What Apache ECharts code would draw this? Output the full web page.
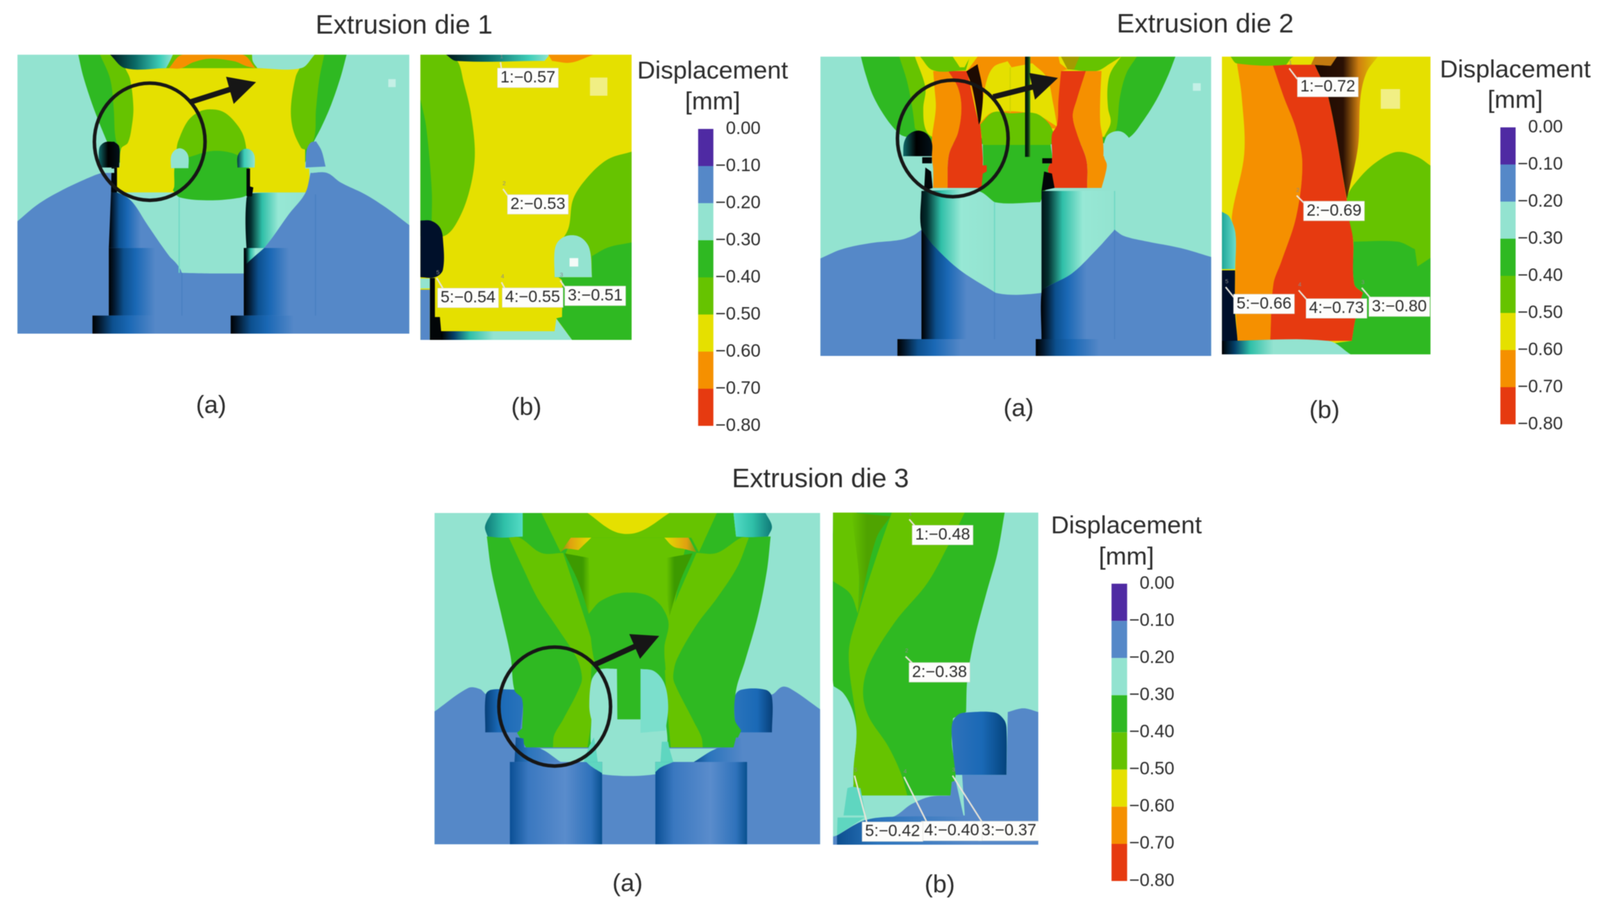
<!DOCTYPE html>
<html><head><meta charset="utf-8">
<script src="https://cdn.jsdelivr.net/npm/echarts@6/dist/echarts.min.js"></script>
<style>html,body{margin:0;padding:0;background:#fff;overflow:hidden}#c{width:100vw;height:100vh;filter:blur(0.8px)}</style></head>
<body><div id="c"></div>
<script>
// ---------- values ----------
const dieTitles = ['Extrusion die 1', 'Extrusion die 2', 'Extrusion die 3'];
const scaleTitle = ['Displacement', '[mm]'];
const subCaptions = ['(a)', '(b)'];
const bandEdges = [0, -0.1, -0.2, -0.3, -0.4, -0.5, -0.6, -0.7, -0.8];
const bandStep = [-0.1, -0.1, -0.1, -0.1, -0.1, -0.1, -0.1, -0.1];
const probeIds = [1, 2, 3, 4, 5];
const probesDie1 = [-0.57, -0.53, -0.51, -0.55, -0.54];
const probesDie2 = [-0.72, -0.69, -0.80, -0.73, -0.66];
const probesDie3 = [-0.48, -0.38, -0.37, -0.40, -0.42];

// label anchor and leader start per probe, in each (b) view's own drawing units
const anchorsDie1 = [[478,153],[518,662],[748,1030],[497,1037],[238,1038]];
const leadersDie1 = [[[368,90],[372,118]],[[378,600],[398,628]],[[608,968],[628,998]],[[372,975],[388,1005]],[[112,958],[142,1008]]];
const anchorsDie2 = [[468,160],[493,657],[757,1041],[503,1048],[210,1030]];
const leadersDie2 = [[[312,85],[345,128]],[[342,595],[372,625]],[[605,965],[642,1008]],[[350,975],[386,1016]],[[55,962],[92,1008]]];
const anchorsDie3 = [[450,125],[438,676],[704,1312],[485,1312],[258,1315]];
const leadersDie3 = [[[322,62],[352,98]],[[308,612],[345,650]],[[488,1090],[605,1282]],[[302,1095],[392,1282]],[[112,1090],[162,1288]]];

// contour outlines, in each view's own drawing units: [fill, outline]
const die1a = [
 ['C',[[65,77],[1502,77],[1502,1481],[65,1481]]],
 ['G',[[288,77],[1272,77],[1250,190],[1215,330],[1180,440],[1150,520],[1120,620],[425,620],[395,520],[365,420],[335,310],[305,180]]],
 ['L',[[368,77],[1190,77],[1172,200],[1160,350],[1150,510],[1105,560],[445,560],[425,500],[418,350],[405,200]]],
 ['Y',[[460,145],[1100,145],[1085,190],[1068,340],[1075,450],[1105,545],[1120,555],[1120,650],[1135,650],[1135,735],[1125,770],[440,770],[425,730],[425,650],[440,640],[445,550],[470,520],[485,430],[490,340],[478,200]]],
 ['L',[[645,640],[648,560],[655,510],[690,410],[730,365],[770,352],[820,365],[865,420],[895,490],[908,600],[908,640]]],
 ['G',[[640,660],[645,610],[700,590],[770,563],[830,565],[880,590],[915,650],[915,760],[925,775],[880,797],[770,810],[660,795],[635,760],[640,740]]],
 ['O',[[620,145],[670,77],[890,77],[938,145],[905,135],[860,110],[770,97],[710,115],[665,145]]],
 ['C',[[925,77],[1155,77],[1105,145],[945,145],[928,110]]],
 ['capL',[[405,77],[635,77],[622,115],[610,145],[460,145]]],
 ['B',[[65,915],[140,830],[220,765],[320,700],[385,668],[420,670],[420,770],[480,810],[540,930],[600,1050],[668,1175],[770,1178],[895,1178],[920,1105],[975,1040],[1060,880],[1120,775],[1140,672],[1200,672],[1250,720],[1340,780],[1420,850],[1502,935],[1502,1481],[65,1481]]],
 ['cylB',[[408,770],[430,770],[480,810],[520,890],[590,1050],[400,1050]]],
 ['cylA',[[925,775],[1120,775],[1060,880],[975,1040],[920,1105],[905,1050],[905,800]]],
 ['cylB',[[400,1050],[590,1050],[668,1175],[668,1390],[400,1390]]],
 ['cylB',[[895,1050],[965,1050],[1162,1050],[1162,1390],[895,1390]]],
 ['cylA',[[900,1050],[970,1050],[920,1110],[905,1130]]],
 ['cylB',[[340,1390],[712,1390],[712,1481],[340,1481]]],
 ['cylB',[[847,1390],[1220,1390],[1220,1481],[847,1481]]],
 ['lnTeal',[[658,795],[658,1175]]],
 ['lnBlue',[[1158,780],[1158,1390]]],
 ['lnBlue',[[668,1175],[668,1390]]],
 ['K',[[410,645],[430,645],[430,770],[408,770]]],
 ['K',[[905,650],[918,650],[918,740],[930,745],[925,790],[905,790]]],
 ['C',[[385,650],[420,650],[420,672],[385,672]]],
 ['C',[[1145,650],[1190,650],[1195,665],[1145,672]]],
 ['bulD',[[365,645],[365,548],[385,518],[420,515],[438,540],[438,645]]],
 ['C',[[628,648],[628,590],[640,560],[660,548],[680,560],[692,590],[692,648]]],
 ['bulA',[[872,645],[872,590],[885,560],[905,550],[925,562],[935,590],[935,645]]],
 ['C',[[1160,513],[1185,530],[1197,590],[1197,640],[1122,645]]],
 ['B',[[1122,645],[1125,560],[1140,520],[1160,513],[1180,560],[1195,640]]],
 ['gizmo',[[1425,200],[1452,200],[1452,240],[1425,240]]]
];
const die1b = [
 ['Y',[[47,60],[894,60],[894,1207],[47,1207]]],
 ['L',[[47,60],[150,60],[195,85],[220,170],[250,300],[265,470],[240,620],[190,740],[140,790],[47,790]]],
 ['G',[[47,240],[70,350],[92,600],[92,735],[47,735]]],
 ['L',[[894,450],[800,480],[720,550],[660,640],[640,760],[590,850],[585,955],[894,955]]],
 ['G',[[735,870],[800,835],[894,815],[894,1207],[655,1207],[592,1120],[615,1115],[615,970],[600,955],[735,955]]],
 ['C',[[585,955],[585,850],[600,810],[640,787],[690,795],[725,840],[735,955]]],
 ['W',[[645,878],[680,878],[680,912],[645,912]]],
 ['N',[[47,727],[90,728],[125,755],[137,800],[137,925],[105,955],[47,955]]],
 ['C',[[47,960],[85,960],[85,1000],[47,1000]]],
 ['B',[[47,1005],[85,1005],[85,1207],[47,1207]]],
 ['K',[[85,958],[105,958],[105,1115],[125,1115],[130,1172],[210,1175],[190,1207],[85,1207]]],
 ['capL',[[150,60],[565,60],[545,85],[190,85]]],
 ['O',[[560,60],[740,60],[650,92],[575,85]]],
 ['capB',[[130,1172],[585,1172],[592,1122],[655,1207],[130,1207]]],
 ['pale',[[727,152],[797,152],[797,225],[727,225]]]
];
const die2a = [
 ['C',[[38,48],[1535,48],[1535,1512],[38,1512]]],
 ['G',[[193,48],[1398,48],[1370,140],[1325,260],[1270,370],[1225,440],[1170,470],[465,470],[365,440],[340,425],[290,350],[240,240],[210,130]]],
 ['L',[[340,48],[1250,48],[1210,130],[1185,250],[1175,380],[1165,415],[1120,445],[460,445],[400,400],[390,300],[370,170]]],
 ['Y',[[400,48],[1190,48],[1150,125],[1138,200],[1140,300],[1150,370],[1125,440],[470,440],[440,400],[432,300],[440,200]]],
 ['O',[[600,118],[640,48],[950,48],[960,118],[955,260],[945,400],[650,380]]],
 ['Y',[[670,190],[700,100],[755,70],[770,100],[850,80],[905,150],[930,280],[945,390],[860,330],[700,320],[650,370]]],
 ['lnLime',[[765,100],[765,320]]],
 ['L',[[650,380],[700,320],[765,325],[860,325],[910,370],[935,430],[920,480],[660,480]]],
 ['G',[[660,480],[920,480],[925,550],[910,600],[930,690],[900,700],[880,760],[705,760],[640,700],[660,600]]],
 ['O',[[470,118],[530,118],[565,200],[578,300],[565,420],[530,530],[525,690],[470,690],[470,600],[465,540],[465,450],[480,300],[475,200]]],
 ['R',[[528,118],[600,118],[640,350],[650,380],[660,540],[660,580],[675,580],[675,610],[660,620],[655,690],[525,690],[530,530],[565,420],[578,300],[565,200]]],
 ['T',[[597,120],[640,85],[660,220],[652,360],[645,380],[620,200]]],
 ['L',[[420,48],[610,48],[595,115],[470,115]]],
 ['Y',[[545,48],[612,48],[590,100],[572,100]]],
 ['O',[[960,118],[935,60],[985,110]]],
 ['L',[[960,48],[1190,48],[1150,80],[1095,118],[985,110]]],
 ['olive',[[960,48],[1030,48],[1010,110],[985,110]]],
 ['R',[[960,118],[1055,118],[1020,260],[1005,340],[1025,440],[1058,560],[1060,690],[930,690],[910,600],[925,550],[925,430],[945,380],[950,260]]],
 ['O',[[1055,118],[1115,118],[1110,250],[1110,370],[1120,450],[1125,540],[1135,575],[1130,620],[1115,690],[1060,690],[1058,560],[1025,440],[1005,340],[1020,260]]],
 ['stemG',[[822,48],[842,48],[842,538],[822,538]]],
 ['B',[[38,1035],[120,990],[230,960],[340,945],[390,925],[425,895],[470,970],[570,1090],[700,1200],[880,1205],[905,1175],[1000,1110],[1090,1000],[1165,895],[1200,925],[1280,950],[1420,985],[1535,1028],[1535,1512],[38,1512]]],
 ['cylA',[[425,705],[640,705],[705,760],[705,1200],[570,1090],[470,970],[425,895]]],
 ['cylA',[[885,705],[1165,705],[1165,895],[1090,1000],[1000,1110],[905,1175],[885,1200]]],
 ['cylB',[[425,895],[470,970],[570,1090],[705,1200],[705,1430],[425,1430]]],
 ['cylB',[[885,1200],[905,1175],[1000,1110],[1090,1000],[1165,895],[1165,1430],[885,1430]]],
 ['cylB',[[333,1430],[725,1430],[725,1512],[333,1512]]],
 ['cylB',[[863,1430],[1255,1430],[1255,1512],[863,1512]]],
 ['lnTeal',[[705,760],[705,1200]]],
 ['lnTeal',[[1165,705],[1165,895]]],
 ['lnBlue',[[705,1200],[705,1430]]],
 ['lnBlue',[[1165,895],[1165,1430]]],
 ['bulD',[[355,535],[358,470],[375,430],[410,410],[445,425],[465,470],[465,535]]],
 ['K',[[428,540],[465,540],[465,570],[428,570]]],
 ['K',[[440,590],[462,610],[468,690],[435,705]]],
 ['C',[[1122,535],[1125,470],[1140,430],[1175,412],[1205,425],[1230,470],[1233,535]]],
 ['C',[[1140,540],[1165,540],[1165,570],[1140,570]]],
 ['K',[[888,545],[925,545],[925,570],[888,570]]],
 ['K',[[895,610],[925,620],[935,690],[885,705]]],
 ['gizmo',[[1465,178],[1495,178],[1495,215],[1465,215]]]
];
const die2b = [
 ['Y',[[40,38],[883,38],[883,1232],[40,1232]]],
 ['O',[[100,60],[245,70],[290,200],[340,330],[365,470],[340,680],[280,860],[248,950],[235,1178],[103,1178],[93,1000],[95,750],[80,680],[130,430],[120,200]]],
 ['R',[[245,70],[415,70],[470,200],[545,615],[570,770],[575,950],[610,985],[580,1090],[565,1178],[235,1178],[248,950],[280,860],[340,680],[365,470],[340,330],[290,200]]],
 ['wedge',[[415,70],[505,38],[670,38],[625,100],[600,200],[590,400],[545,610],[470,200]]],
 ['L',[[75,38],[330,38],[300,70],[100,65]]],
 ['Y',[[330,38],[415,38],[395,70],[300,70]]],
 ['brown',[[415,38],[505,38],[480,75],[400,70]]],
 ['L',[[545,610],[600,520],[680,450],[750,420],[830,440],[883,475],[883,900],[575,900],[570,770]]],
 ['G',[[572,780],[750,780],[820,810],[830,880],[883,845],[883,1232],[560,1232],[470,1190],[565,1178],[580,1090],[610,985],[575,950]]],
 ['bulC',[[40,660],[70,680],[95,750],[93,890],[40,890]]],
 ['N',[[40,895],[93,895],[93,1060],[103,1178],[103,1232],[40,1232]]],
 ['capB',[[40,1178],[470,1178],[560,1232],[40,1232]]],
 ['pale',[[682,168],[760,168],[760,247],[682,247]]]
];
const die3a = [
 ['C',[[28,40],[1533,40],[1533,1517],[28,1517]]],
 ['B',[[28,925],[160,820],[205,825],[235,850],[1340,850],[1385,815],[1420,825],[1533,915],[1533,1517],[28,1517]]],
 ['bul3',[[226,1018],[228,850],[250,828],[350,828],[372,860],[372,910],[362,1018]]],
 ['bul3r',[[1203,1018],[1200,860],[1225,828],[1320,828],[1345,860],[1345,1018]]],
 ['G',[[372,40],[1195,40],[1205,145],[1340,145],[1325,300],[1290,500],[1240,700],[1205,830],[1200,960],[1225,1010],[1195,1085],[385,1085],[350,1020],[370,1000],[370,870],[340,830],[325,680],[290,500],[250,300],[232,145],[372,145]]],
 ['capR',[[225,100],[250,40],[372,40],[372,145],[290,150],[235,145]]],
 ['capL3',[[1195,40],[1320,40],[1345,100],[1330,145],[1255,148],[1205,145]]],
 ['L',[[318,150],[360,150],[445,218],[530,218],[650,640],[655,690],[640,730],[640,960],[625,1085],[490,1085],[495,1030],[530,960],[600,800],[600,745],[580,680],[500,540],[430,420],[375,290]]],
 ['L',[[1255,150],[1225,150],[1130,218],[1050,218],[940,520],[925,640],[930,800],[940,960],[950,1085],[1075,1085],[1070,1040],[1040,970],[965,800],[960,760],[975,690],[1050,540],[1130,420],[1210,280]]],
 ['L',[[445,40],[1130,40],[1060,215],[1030,150],[565,150],[520,215]]],
 ['Y',[[625,40],[945,40],[825,125],[735,125]]],
 ['L',[[565,150],[1020,150],[1000,230],[960,470],[940,520],[900,440],[780,395],[680,430],[630,490],[580,300],[540,220]]],
 ['shadeL',[[535,220],[630,240],[635,400],[630,490],[590,350]]],
 ['shadeR',[[1035,220],[935,240],[935,400],[945,500],[985,350]]],
 ['sparkL',[[520,215],[560,150],[640,150],[590,205],[540,200]]],
 ['sparkR',[[925,150],[1020,150],[1050,215],[1000,200],[960,190]]],
 ['G',[[630,490],[680,430],[780,395],[880,420],[940,520],[925,640],[930,740],[830,735],[830,820],[740,820],[740,735],[680,740],[650,690]]],
 ['C',[[640,960],[930,960],[935,1085],[890,1205],[682,1205],[640,1085]]],
 ['C',[[680,735],[740,735],[742,1020],[660,1020],[640,960],[632,900],[640,790],[660,750]]],
 ['D2',[[832,735],[885,745],[925,800],[940,900],[930,1010],[832,1020]]],
 ['C',[[440,1090],[1130,1090],[1040,1150],[890,1205],[682,1205],[520,1150]]],
 ['cyl3',[[322,1150],[682,1150],[682,1517],[322,1517]]],
 ['cyl3',[[890,1150],[1248,1150],[1248,1517],[890,1517]]],
 ['D',[[620,1150],[682,1150],[682,1200],[640,1170]]],
 ['D',[[890,1150],[960,1150],[910,1175],[890,1195]]],
 ['neck',[[345,1040],[375,1045],[378,1085],[440,1090],[520,1150],[340,1150]]],
 ['D',[[630,1085],[650,1040],[658,1090],[665,1150],[610,1150]]],
 ['D',[[910,1150],[915,1060],[940,1060],[945,1090],[960,1150]]],
 ['neck',[[1040,1150],[1130,1090],[1195,1085],[1205,1040],[1225,1045],[1232,1150]]]
];
const die3b = [
 ['C',[[30,35],[817,35],[817,1367],[30,1367]]],
 ['G',[[30,35],[688,35],[660,200],[620,350],[570,550],[545,700],[540,835],[490,860],[485,960],[500,1080],[480,1170],[105,1170],[115,920],[30,720]]],
 ['L',[[255,35],[535,35],[470,170],[390,320],[270,470],[170,640],[145,750],[165,850],[240,970],[290,1080],[315,1170],[110,1170],[108,1070],[120,900],[90,600],[130,430],[200,200]]],
 ['L',[[30,35],[120,35],[130,300],[125,440],[95,360],[30,310]]],
 ['shadeD',[[100,35],[250,50],[195,140],[125,440],[130,300]]],
 ['C',[[30,730],[70,760],[105,830],[120,920],[105,1070],[30,1090]]],
 ['B',[[817,835],[760,820],[700,835],[695,1087],[525,1087],[535,1250],[30,1330],[30,1367],[817,1367]]],
 ['bul3b',[[487,880],[510,845],[540,837],[650,837],[685,865],[695,900],[695,1087],[500,1087],[487,960]]],
 ['C',[[30,1090],[105,1090],[105,1170],[400,1170],[265,1255],[30,1335]]],
 ['B',[[260,1255],[330,1205],[400,1175],[480,1170],[485,1115],[500,1110],[530,1250],[560,1255],[560,1367],[45,1367],[45,1330],[150,1270]]],
 ['D',[[70,1250],[85,1140],[105,1135],[135,1140],[155,1250]]],
 ['D',[[47,1258],[150,1258],[45,1330]]],
 ['neck',[[45,1330],[150,1270],[260,1255],[560,1255],[560,1367],[45,1367]]]
];

// circled region and arrow in each (a) view: ellipse centre + radii, arrow shaft, arrow head
const marks1 = {c:[550,515], r:[203,295], shaft:[[700,315],[860,245]], head:[[830,188],[940,215],[858,325]]};
const marks2 = {c:[545,448], r:[212,285], shaft:[[700,245],[870,190]], head:[[838,128],[948,152],[860,258]]};
const marks3 = {c:[497,903], r:[218,265], shaft:[[655,715],[820,630]], head:[[788,580],[905,588],[830,690]]};

// ---------- styling and layout ----------
const FONT = '"Liberation Sans", Arial, sans-serif';
const TEXT = '#2a2a2a';
const bandColors = ['#4f2aa3','#5588c8','#93e3d0','#2fb922','#66c300','#e5e000','#f59000','#e63a10'];
const [P,B,C,G,L,Y,O,R] = bandColors;
const grad = s => new echarts.graphic.LinearGradient(0,0,1,0,s.map(([o,c])=>({offset:o,color:c})));
const fills = {
 P,B,C,G,L,Y,O,R, K:'#020608', N:'#00102a', W:'#f4fbf8', T:'#1d0a02', D:'#5fd6c0', D2:'#7bdfcc',
 gizmo:'#c4f0e6', pale:'#f1ef84', olive:'#a39c00', brown:'#c27a10',
 cylB:grad([[0,'#000'],[.07,'#03192f'],[.2,'#0c508f'],[.36,'#1a68b5'],[.62,B],[1,B]]),
 cylA:grad([[0,'#011216'],[.09,'#03302f'],[.28,'#2fbfa8'],[.55,'#97e8d5'],[1,C]]),
 capL:grad([[0,'#00181a'],[.4,'#0a6a66'],[.8,'#3ecdb8'],[1,C]]),
 capB:grad([[0,'#000'],[.1,'#04406a'],[.22,'#2fbfa8'],[.4,C],[1,C]]),
 bulD:grad([[0,'#0f6a6a'],[.45,'#000'],[1,'#03121a']]),
 bulA:grad([[0,'#053a3e'],[.4,'#3ccdb8'],[1,C]]),
 bulC:grad([[0,'#1fa79a'],[1,'#6bddcb']]),
 stemG:grad([[0,'#02120a'],[.55,'#062a12'],[1,'#3a8a1a']]),
 wedge:grad([[0,'#1d0a02'],[.45,'#2a1004'],[.7,'#d08010'],[1,'#e0c800']]),
 sparkL:grad([[0,'#7a9a10'],[.3,'#e0a010'],[1,'#e5e000']]),
 sparkR:grad([[0,'#e5e000'],[.7,'#e0a010'],[1,'#7a9a10']]),
 bul3:grad([[0,'#073f78'],[.35,'#1a69b6'],[1,'#2a74bc']]),
 bul3r:grad([[0,'#2a74bc'],[.6,'#1a69b6'],[1,'#073f78']]),
 bul3b:grad([[0,'#2f72bb'],[.55,'#1a69b6'],[1,'#04437c']]),
 cyl3:grad([[0,'#0a4f95'],[.2,'#3a78c0'],[.6,'#5a8ccc'],[.88,'#2f72bb'],[1,'#08508f']]),
 capR:grad([[0,'#0f7a78'],[.5,'#2fbfa8'],[1,'#55dcc6']]),
 capL3:grad([[0,'#55dcc6'],[.5,'#2fbfa8'],[1,'#0f7a78']]),
 shadeL:grad([[0,'#3d9a00'],[.7,'#3d9a00'],[1,L]]),
 shadeR:grad([[0,L],[.3,'#3d9a00'],[1,'#3d9a00']]),
 shadeD:grad([[0,L],[.4,'#4fa300'],[1,'#4fa300']]),
 neck:grad([[0,'#0d4f90'],[.3,'#2a74bc'],[1,B]])
};
const strokes = {lnTeal:'#6fd8c4', lnBlue:'#4a80c2', lnLime:'#cfd400'};

const views = [
 {layers:die1a, box:[47,140,1054,714],  x:[65,1502], y:[77,1481],  marks:marks1},
 {layers:die1b, box:[1131,140,568,730], x:[47,894],  y:[60,1207],  probes:probesDie1, anchors:anchorsDie1, leaders:leadersDie1},
 {layers:die2a, box:[2207,145,1051,766],x:[38,1535], y:[48,1512],  marks:marks2},
 {layers:die2b, box:[3287,145,561,762], x:[40,883],  y:[38,1232],  probes:probesDie2, anchors:anchorsDie2, leaders:leadersDie2},
 {layers:die3a, box:[1169,1313,1037,848],x:[28,1533],y:[40,1517],  marks:marks3},
 {layers:die3b, box:[2241,1312,552,850],x:[30,817],  y:[35,1367],  probes:probesDie3, anchors:anchorsDie3, leaders:leadersDie3}
];
const scales = [
 {box:[1878,330,41,760],  titleX:1917, titleY:[182,261]},
 {box:[4036,326,41,760],  titleX:4076, titleY:[179,257]},
 {box:[2990,1494,42,761], titleX:3030, titleY:[1346,1426]}
];
const titleAt = [[1087,66],[3242,63],[2207,1227]];
const captionAt = [[568,1038,0],[1416,1043,1],[2740,1046,0],[3563,1051,1],[1688,2262,0],[2528,2265,1]];

const el=document.getElementById('c');
const chart=echarts.init(el);
// the design is laid out on a 4304-wide sheet; fit it to the window actually given
const sx=chart.getWidth()/4304, sy=chart.getHeight()/2342;

// rounds gentle bends of an outline while keeping its sharp corners
function outline(p){
  const n=p.length; if(n<4) return p;
  const sub=(a,b)=>[a[0]-b[0],a[1]-b[1]], len=a=>Math.hypot(a[0],a[1])||1;
  const corner=p.map((q,i)=>{const a=sub(q,p[(i+n-1)%n]),b=sub(p[(i+1)%n],q);
    const c=(a[0]*b[0]+a[1]*b[1])/(len(a)*len(b)); return c<0.66;});
  const out=[];
  for(let i=0;i<n;i++){
    const j=(i+1)%n,a=p[i],b=p[j],d=sub(b,a),L0=len(d);
    const tan=(k,fallback)=>{ if(corner[k]) return fallback;
      const t=sub(p[(k+1)%n],p[(k+n-1)%n]),l=len(t); return [t[0]/l*L0,t[1]/l*L0]; };
    const t0=tan(i,d),t1=tan(j,d);
    for(let s=0;s<10;s++){const u=s/10,u2=u*u,u3=u2*u;
      const h00=2*u3-3*u2+1,h10=u3-2*u2+u,h01=-2*u3+3*u2,h11=u3-u2;
      out.push([h00*a[0]+h10*t0[0]+h01*b[0]+h11*t1[0],h00*a[1]+h10*t0[1]+h01*b[1]+h11*t1[1]]);}
  }
  return out;
}

const grid=[], xAxis=[], yAxis=[], series=[], title=[];
const addTitle=(text,cx,cy,size)=>title.push({text,left:cx*sx,top:(cy-size*0.46)*sy,textAlign:'center',padding:0,
  textStyle:{fontFamily:FONT,fontSize:size*sx,fontWeight:'normal',color:TEXT}});
dieTitles.forEach((t,i)=>addTitle(t,titleAt[i][0],titleAt[i][1],72));
captionAt.forEach(([x,y,k])=>addTitle(subCaptions[k],x,y,67));
scales.forEach(s=>scaleTitle.forEach((t,k)=>addTitle(t,s.titleX,s.titleY[k],67)));
const gridOf=b=>({left:b[0]*sx,top:b[1]*sy,width:b[2]*sx,height:b[3]*sy,containLabel:false});

views.forEach((v,i)=>{
  grid.push(gridOf(v.box));
  xAxis.push({type:'value',gridIndex:i,min:v.x[0],max:v.x[1],show:false});
  yAxis.push({type:'value',gridIndex:i,min:v.y[0],max:v.y[1],inverse:true,show:false});
  const common={type:'custom',xAxisIndex:i,yAxisIndex:i,silent:true,clip:true,animation:false};
  series.push({...common,z:2,data:v.layers.map((l,k)=>[l[1][0][0],l[1][0][1],k]),
    renderItem:(p,api)=>{
      const l=v.layers[api.value(2)], pts=l[1].map(q=>api.coord(q));
      if(strokes[l[0]]) return {type:'polyline',shape:{points:pts},style:{stroke:strokes[l[0]],fill:null,lineWidth:3}};
      return {type:'polygon',shape:{points:outline(pts)},style:{fill:fills[l[0]]}};
    }});
  if(v.marks){
    const m=v.marks;
    series.push({...common,z:3,data:[[m.c[0],m.c[1]]],renderItem:(p,api)=>{
      const c=api.coord(m.c), e=api.coord([m.c[0]+m.r[0],m.c[1]+m.r[1]]);
      const a=api.coord(m.shaft[0]), b=api.coord(m.shaft[1]);
      return {type:'group',children:[
        {type:'ellipse',shape:{cx:c[0],cy:c[1],rx:e[0]-c[0],ry:e[1]-c[1]},style:{fill:null,stroke:'#161616',lineWidth:9}},
        {type:'line',shape:{x1:a[0],y1:a[1],x2:b[0],y2:b[1]},style:{stroke:'#161616',lineWidth:14}},
        {type:'polygon',shape:{points:m.head.map(q=>api.coord(q))},style:{fill:'#161616'}}
      ]};
    }});
  }
  if(v.probes){
    series.push({...common,z:4,data:v.probes.map((val,k)=>[v.anchors[k][0],v.anchors[k][1],val,probeIds[k],k]),
      renderItem:(p,api)=>{
        const k=api.value(4), a=api.coord([api.value(0),api.value(1)]);
        const ld=v.leaders[k].map(q=>api.coord(q));
        const txt=api.value(3)+':\u2212'+Math.abs(api.value(2)).toFixed(2);
        return {type:'group',children:[
          {type:'line',shape:{x1:ld[0][0],y1:ld[0][1],x2:ld[1][0],y2:ld[1][1]},style:{stroke:'#e8e4d8',lineWidth:4}},
          {type:'text',x:ld[0][0]+3,y:ld[0][1]-14,style:{text:String(api.value(3)),fill:'#8a8a8a',font:'15px '+FONT,align:'center',verticalAlign:'middle'}},
          {type:'text',x:a[0],y:a[1],style:{text:txt,fill:'#2a2a2a',font:(44*sx)+'px '+FONT,align:'center',verticalAlign:'middle',
             backgroundColor:'#fdfdfb',padding:[4,7,3,7],borderColor:'#d8d8d0',borderWidth:1}}
        ]};
      }});
  }
});

scales.forEach((s,j)=>{
  const i=views.length+j;
  grid.push(gridOf(s.box));
  xAxis.push({type:'category',gridIndex:i,data:['Displacement'],show:false});
  yAxis.push({type:'value',gridIndex:i,min:bandEdges[bandEdges.length-1],max:bandEdges[0],interval:0.1,position:'right',
    axisLine:{show:false},axisTick:{show:false},splitLine:{show:false},
    axisLabel:{show:true,hideOverlap:false,align:'right',margin:127*sx,fontFamily:FONT,fontSize:48*sx,color:TEXT,
      formatter:v=>Math.abs(v)<1e-9?'0.00':'\u2212'+Math.abs(v).toFixed(2)}});
  bandStep.forEach((d,k)=>series.push({type:'bar',xAxisIndex:i,yAxisIndex:i,stack:'s'+j,barWidth:'100%',silent:true,
    data:[d],itemStyle:{color:bandColors[k]},animation:false}));
});

chart.setOption({backgroundColor:'#ffffff',animation:false,title,grid,xAxis,yAxis,series});
</script></body></html>
